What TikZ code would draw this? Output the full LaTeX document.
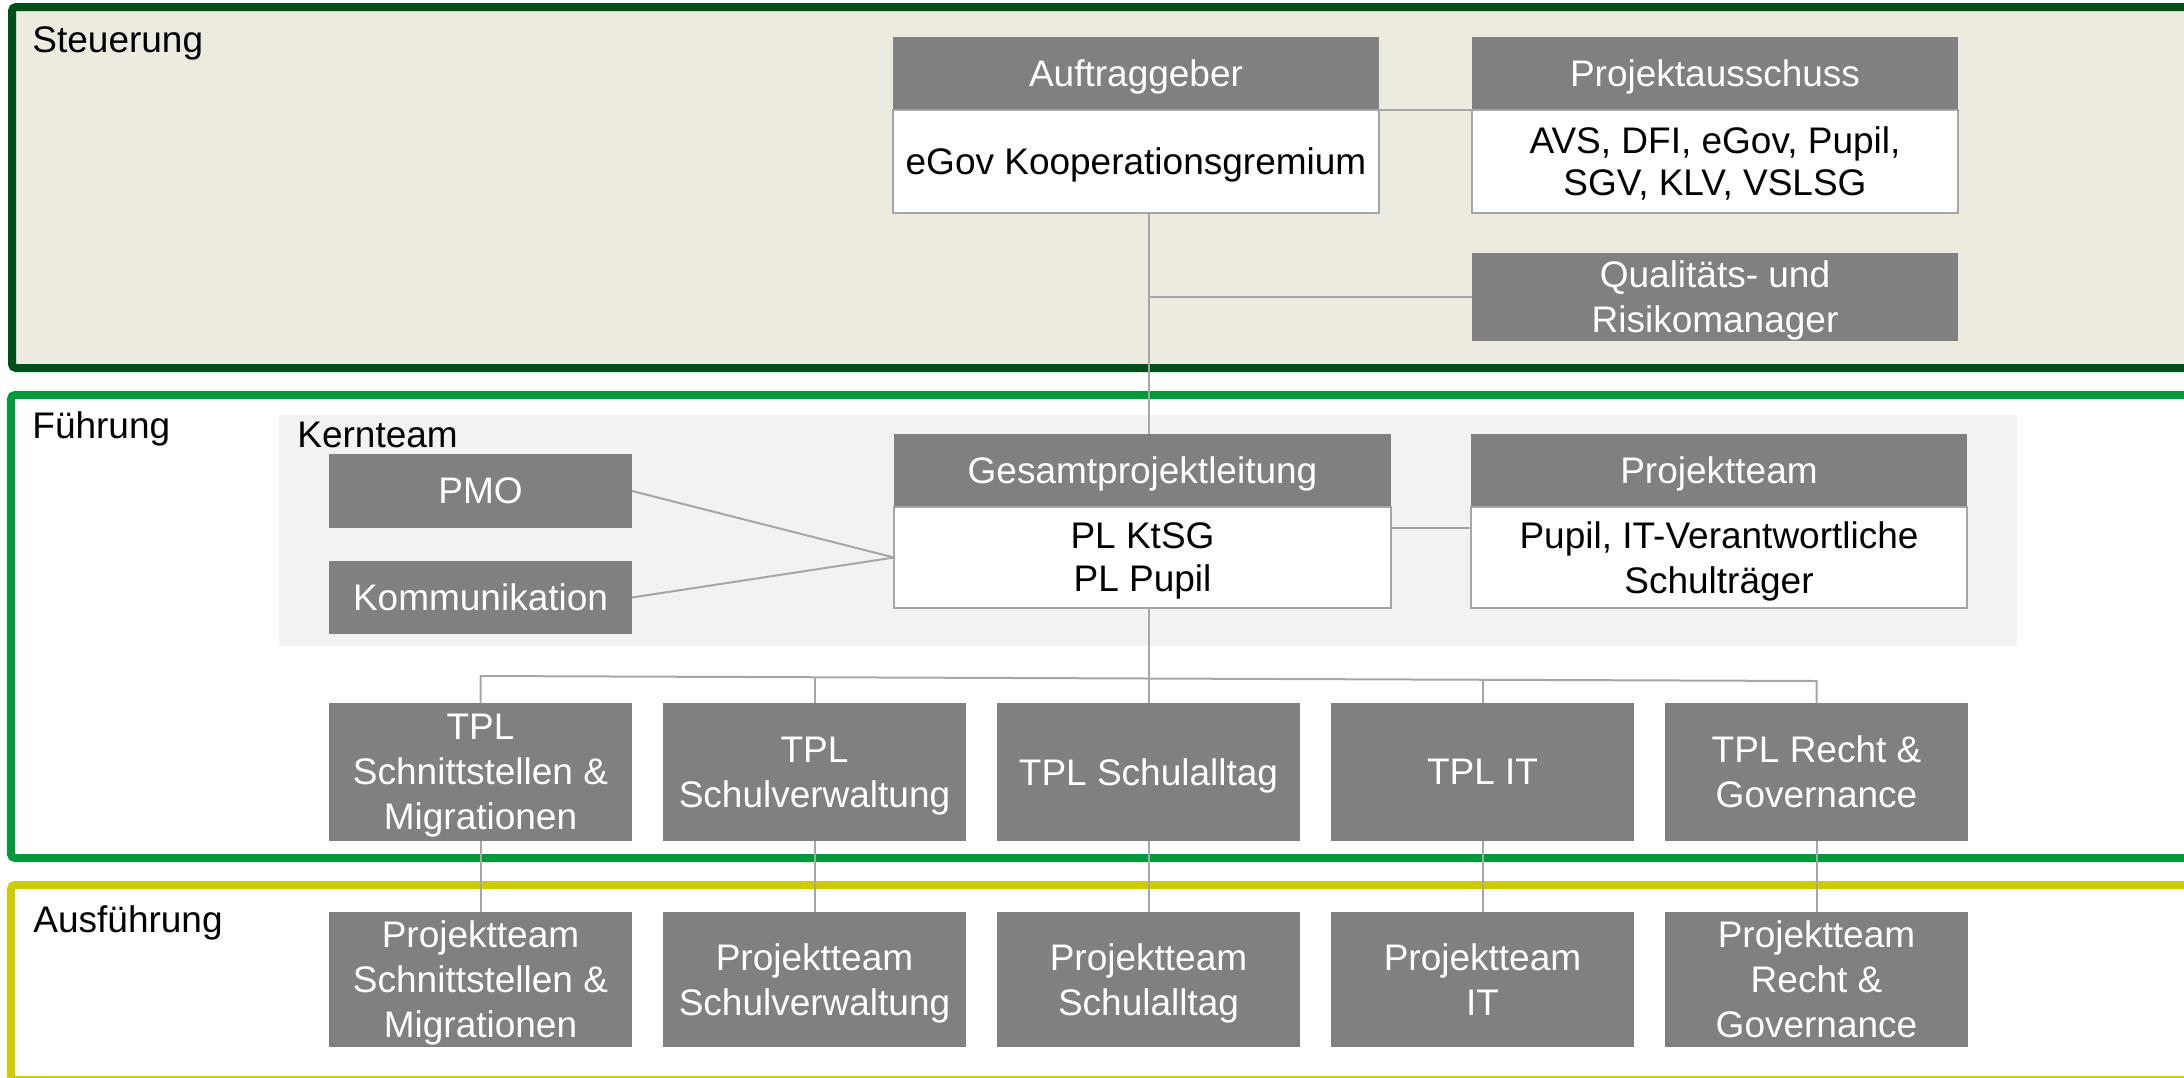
\documentclass[tikz,border=0pt]{standalone}
\usepackage{fontspec}
\setmainfont{Liberation Sans}
\definecolor{beige}{HTML}{EDEAE0}
\definecolor{steuergreen}{HTML}{00501C}
\definecolor{fuehrgreen}{HTML}{009A3A}
\definecolor{ausfyellow}{HTML}{CCCC00}
\definecolor{boxgray}{HTML}{808080}
\definecolor{linegray}{HTML}{A6A6A6}
\definecolor{kerngray}{HTML}{F2F2F2}
\tikzset{
  frame/.style={line width=4pt, rounded corners=2pt},
  lbl/.style={anchor=base west, inner sep=0pt, font=\fontsize{18.5}{22.5}\selectfont},
  gbox/.style={fill=boxgray, text=white, inner sep=0pt, outer sep=0pt, align=center,
    anchor=north west, text depth=0pt, font=\fontsize{18.5}{22.5}\selectfont},
  wbox/.style={fill=white, draw=linegray, line width=1pt, text=black, inner sep=0pt,
    outer sep=0pt, align=center, anchor=north west, text depth=0pt, font=\fontsize{18.5}{22.5}\selectfont},
  conn/.style={draw=linegray, line width=1pt},
  tplbox/.style={gbox, minimum width=151.5pt, minimum height=69pt},
  ptbox/.style={gbox, minimum width=151.5pt, minimum height=67.5pt},
}
\begin{document}
\begin{tikzpicture}[x=0.5pt,y=-0.5pt]
\useasboundingbox (0,0) rectangle (2184,1077);
\clip (0,0) rectangle (2184,1077);
% frames
\draw[frame, draw=steuergreen, fill=beige] (12,7) rectangle (2240,368);
\draw[frame, draw=fuehrgreen] (11,395) rectangle (2240,858);
\draw[frame, draw=ausfyellow] (11,885) rectangle (2240,1080);
\node[lbl] (lsteuer) at (32,52) {Steuerung};
\node[lbl] (lfuehr) at (32,438) {Führung};
\node[lbl] (lausf) at (33,932) {Ausführung};
% Kernteam area
\node[fill=kerngray, inner sep=0pt, outer sep=0pt, minimum width=869pt, minimum height=115.5pt, anchor=north west] (kern) at (279,415) {};
\node[lbl] (kernlbl) at (297,447) {Kernteam};
% Steuerung boxes
\node[gbox, minimum width=243pt, minimum height=36.5pt] (aufH) at (893,37) {Auftraggeber};
\node[wbox, minimum width=243pt, minimum height=51.5pt] (aufB) at (893,110) {eGov Kooperationsgremium};
\node[gbox, minimum width=243pt, minimum height=36.5pt] (pasH) at (1472,37) {Projektausschuss};
\node[wbox, minimum width=243pt, minimum height=51.5pt, font=\fontsize{18.5}{21}\selectfont] (pasB) at (1472,110) {AVS, DFI, eGov, Pupil,\\SGV, KLV, VSLSG};
\node[gbox, minimum width=243pt, minimum height=44pt] (qual) at (1472,253) {Qualitäts- und\\Risikomanager};
% Kernteam boxes
\node[gbox, minimum width=151.5pt, minimum height=37pt] (pmo) at (329,454) {PMO};
\node[gbox, minimum width=151.5pt, minimum height=36.5pt] (kom) at (329,561) {Kommunikation};
\node[gbox, minimum width=248.5pt, minimum height=36.5pt] (gplH) at (894,434) {Gesamtprojektleitung};
\node[wbox, minimum width=248.5pt, minimum height=50.5pt, font=\fontsize{18.5}{21.5}\selectfont] (gplB) at (894,507) {PL KtSG\\PL Pupil};
\node[gbox, minimum width=248pt, minimum height=36.5pt] (ptH) at (1471,434) {Projektteam};
\node[wbox, minimum width=248pt, minimum height=50.5pt] (ptB) at (1471,507) {Pupil, IT-Verantwortliche\\Schulträger};
% TPL row
\node[tplbox] (t1) at (329,703) {TPL\\Schnittstellen \&\\Migrationen};
\node[tplbox] (t2) at (663,703) {TPL\\Schulverwaltung};
\node[tplbox] (t3) at (997,703) {TPL Schulalltag};
\node[tplbox] (t4) at (1331,703) {TPL IT};
\node[tplbox] (t5) at (1665,703) {TPL Recht \&\\Governance};
% Projektteam row
\node[ptbox] (p1) at (329,912) {Projektteam\\Schnittstellen \&\\Migrationen};
\node[ptbox] (p2) at (663,912) {Projektteam\\Schulverwaltung};
\node[ptbox] (p3) at (997,912) {Projektteam\\Schulalltag};
\node[ptbox] (p4) at (1331,912) {Projektteam\\IT};
\node[ptbox] (p5) at (1665,912) {Projektteam\\Recht \&\\Governance};
% connectors
\draw[conn] (aufH.south east) -- (pasH.south west);
\draw[conn] (aufB.south -| t3.north) -- (gplH.north -| t3.north);
\draw[conn] (t3.north |- qual.west) -- (qual.west);
\draw[conn] (pmo.east) -- (gplB.west);
\draw[conn] (kom.east) -- (gplB.west);
\draw[conn] ([yshift=14.75pt]gplB.east) -- ([yshift=14.75pt]ptB.west);
\draw[conn] (gplB.south -| t3.north) -- (t3.north);
\draw[conn] (t1.north) -- (t1.north |- 0,676) -- (t5.north |- 0,681) -- (t5.north);
\draw[conn] (t2.north) -- (t2.north |- 0,677);
\draw[conn] (t4.north) -- (t4.north |- 0,680);
\foreach \i in {1,...,5} { \draw[conn] (t\i.south) -- (p\i.north); }
\end{tikzpicture}
\end{document}
